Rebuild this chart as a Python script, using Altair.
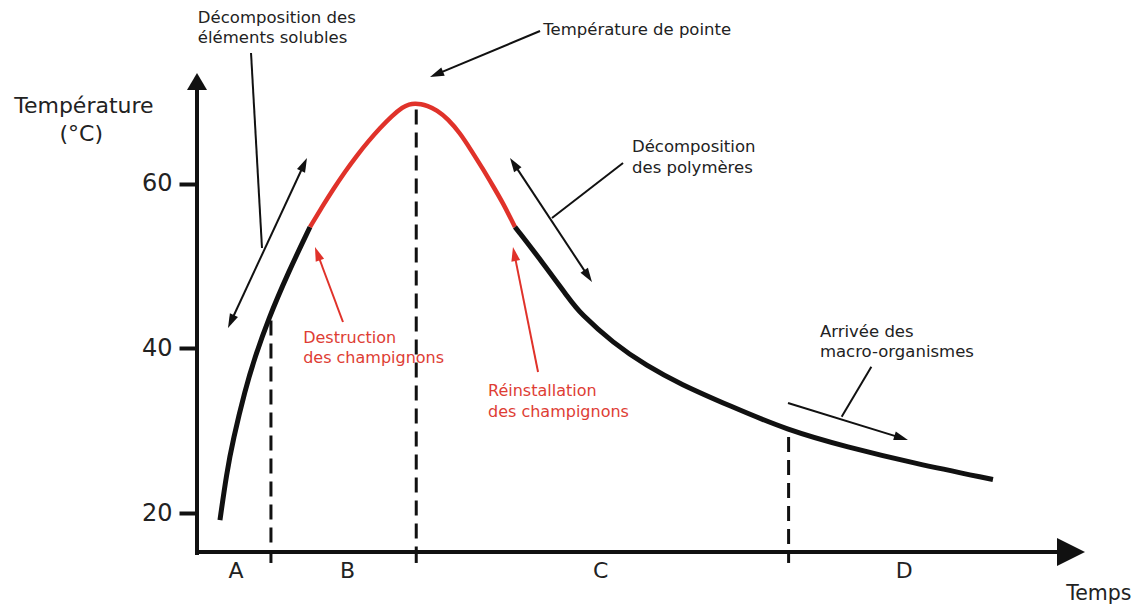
import math
import altair as alt
import pandas as pd

# ---------------- data (time in arbitrary units, temperature in °C) ----------------
rise_t = [2.64, 3.41, 4.14, 5.52, 6.67, 8.16, 10.46, 12.99]
rise_T = [19.18, 24.89, 28.89, 34.96, 38.96, 43.45, 49.16, 54.74]
peak_t = [12.99, 14.37, 15.63, 17.01, 18.39, 19.66, 21.03, 22.41, 23.68, 24.37, 25.06,
          25.75, 26.44, 27.59, 28.85, 30.23, 31.49, 32.87, 34.02, 35.17, 36.55]
peak_T = [54.74, 57.16, 59.28, 61.44, 63.42, 65.10, 66.73, 68.23, 69.32, 69.63, 69.72,
          69.66, 69.47, 68.93, 67.84, 66.14, 64.08, 61.77, 59.71, 57.65, 54.74]
fall_t = [36.55, 39.77, 42.87, 44.02, 47.82, 51.72, 55.52, 61.26, 67.82, 74.71, 82.30, 91.49]
fall_T = [54.74, 50.37, 45.88, 44.30, 40.66, 37.87, 35.69, 33.02, 30.10, 28.04, 26.10, 24.10]

y_ticks = [20, 40, 60]

bound_t = [8.5, 25.2, 68.0]
bound_top = [43.4, 69.0, 29.25]

phase_labels = ["A", "B", "C", "D"]
phase_t = [4.5, 17.3, 46.4, 81.3]

ann_lines = ["Décomposition des", "éléments solubles", "Température de pointe",
             "Décomposition", "des polymères", "Arrivée des", "macro-organismes"]
ann_t = [0.1, 0.1, 39.8, 50.0, 50.0, 71.6, 71.6]
ann_T = [79.49, 77.07, 78.04, 63.84, 61.29, 41.39, 38.96]

red_lines = ["Destruction", "des champignons", "Réinstallation", "des champignons"]
red_t = [12.2, 12.2, 33.45, 33.45]
red_T = [40.66, 38.23, 34.23, 31.68]

arrow_t0 = [3.56, 6.21, 39.43, 35.98, 48.97, 67.93, 77.51, 16.78, 39.20]
arrow_T0 = [42.48, 75.85, 78.52, 63.11, 62.50, 33.38, 37.79, 43.21, 37.14]
arrow_t1 = [12.64, 7.47, 26.78, 45.40, 40.80, 81.72, 74.10, 13.56, 36.32]
arrow_T1 = [63.11, 52.19, 72.94, 48.06, 55.83, 28.89, 31.72, 52.31, 52.31]
arrow_heads = [2, 0, 1, 2, 0, 1, 0, 1, 1]
arrow_red = [False, False, False, False, False, False, False, True, True]

# ---------------- layout / style ----------------
X_DOM = [0, 100]
Y_DOM = [15.3, 75]
W, H = 870, 492
SX = W / (X_DOM[1] - X_DOM[0])
SY = H / (Y_DOM[1] - Y_DOM[0])
FONT = "DejaVu Sans"
BLACK = "#111111"
TEXT = "#222222"
RED = "#e0322a"
RED_TEXT = "#de3d34"

xs = alt.Scale(domain=X_DOM, nice=False, zero=False)
ys = alt.Scale(domain=Y_DOM, nice=False, zero=False)
y_axis = alt.Axis(values=y_ticks, domain=False, grid=False, tickSize=18, tickWidth=4,
                  tickColor=BLACK, labelFont=FONT, labelFontSize=24, labelColor=TEXT,
                  labelPadding=7, title=None)


def X(f="t"):
    return alt.X(f"{f}:Q", scale=xs, axis=None)


def Y(f="T"):
    return alt.Y(f"{f}:Q", scale=ys, axis=y_axis)


# curve
def curve(ts, Ts, color, width):
    return alt.Chart(pd.DataFrame({"t": ts, "T": Ts})).mark_line(
        interpolate="basis", color=color, strokeWidth=width, strokeCap="butt"
    ).encode(x=X(), y=Y())


rise = curve(rise_t, rise_T, BLACK, 5)
peak = curve(peak_t, peak_T, RED, 4.5)
fall = curve(fall_t, fall_T, BLACK, 5)

# axes lines
axes_df = pd.DataFrame({
    "t": [0, -0.23], "T": [14.95, Y_DOM[0]],
    "t2": [0, 99.3], "T2": [71.6, Y_DOM[0]],
})
axes_lines = alt.Chart(axes_df).mark_rule(color=BLACK, strokeWidth=4).encode(
    x=X(), y=Y(), x2="t2:Q", y2="T2:Q")

y_head = alt.Chart(pd.DataFrame({"t": [0], "T": [72.39]})).mark_point(
    shape="M0,-0.85 L1,0.85 L-1,0.85 Z", size=400, filled=True, color=BLACK, opacity=1
).encode(x=X(), y=Y())
x_head = alt.Chart(pd.DataFrame({"t": [100.46], "T": [Y_DOM[0]]})).mark_point(
    shape="M-1,-1 L1,0 L-1,1 Z", size=784, filled=True, color=BLACK, opacity=1
).encode(x=X(), y=Y())

# phase boundaries
bdf = pd.DataFrame({"t": bound_t, "T": bound_top, "T2": [Y_DOM[0]] * 3})
dashes = alt.Chart(bdf).mark_rule(color=BLACK, strokeWidth=3, strokeDash=[15, 8]).encode(
    x=X(), y=Y(), y2="T2:Q")
tdf = pd.DataFrame({"t": bound_t, "T": [Y_DOM[0]] * 3, "T2": [13.97] * 3})
below_ticks = alt.Chart(tdf).mark_rule(color=BLACK, strokeWidth=3).encode(
    x=X(), y=Y(), y2="T2:Q")

# annotation arrows
seg_rows, head_rows = [], []
for t0, T0, t1, T1, hd, red in zip(arrow_t0, arrow_T0, arrow_t1, arrow_T1, arrow_heads, arrow_red):
    col = RED if red else BLACK
    dx = (t1 - t0) * SX
    dy = (T1 - T0) * SY
    L = math.hypot(dx, dy)
    ux, uy = dx / L, dy / L
    a, A, b, B = t0, T0, t1, T1
    if hd >= 1:
        b = t1 - ux * 8 / SX
        B = T1 - uy * 8 / SY
        ang = math.degrees(math.atan2(dx, dy)) % 360
        head_rows.append({"t": t1, "T": T1, "angle": ang, "color": col})
    if hd == 2:
        a = t0 + ux * 8 / SX
        A = T0 + uy * 8 / SY
        ang = math.degrees(math.atan2(-dx, -dy)) % 360
        head_rows.append({"t": t0, "T": T0, "angle": ang, "color": col})
    seg_rows.append({"t": a, "T": A, "t2": b, "T2": B, "color": col})

segs = alt.Chart(pd.DataFrame(seg_rows)).mark_rule(strokeWidth=2).encode(
    x=X(), y=Y(), x2="t2:Q", y2="T2:Q", color=alt.Color("color:N", scale=None))
heads = alt.Chart(pd.DataFrame(head_rows)).mark_point(
    shape="M0,0 L0.55,1.75 L-0.55,1.75 Z", size=260, filled=True, opacity=1, strokeWidth=0
).encode(x=X(), y=Y(), angle=alt.Angle("angle:Q", scale=None),
         color=alt.Color("color:N", scale=None))

# texts
ann = alt.Chart(pd.DataFrame({"t": ann_t, "T": ann_T, "txt": ann_lines})).mark_text(
    align="left", baseline="alphabetic", font=FONT, fontSize=16.5, color=TEXT
).encode(x=X(), y=Y(), text="txt:N")
red_txt = alt.Chart(pd.DataFrame({"t": red_t, "T": red_T, "txt": red_lines})).mark_text(
    align="left", baseline="alphabetic", font=FONT, fontSize=16, color=RED_TEXT
).encode(x=X(), y=Y(), text="txt:N")
phases = alt.Chart(pd.DataFrame({"t": phase_t, "T": [12.14] * 4, "txt": phase_labels})).mark_text(
    align="center", baseline="alphabetic", font=FONT, fontSize=22, color=TEXT
).encode(x=X(), y=Y(), text="txt:N")
ytitle = alt.Chart(pd.DataFrame({"t": [-13.0, -13.3], "T": [68.57, 65.17],
                                 "txt": ["Température", "(°C)"]})).mark_text(
    align="center", baseline="alphabetic", font=FONT, fontSize=22, color=TEXT
).encode(x=X(), y=Y(), text="txt:N")
xtitle = alt.Chart(pd.DataFrame({"t": [99.9], "T": [9.48], "txt": ["Temps"]})).mark_text(
    align="left", baseline="alphabetic", font=FONT, fontSize=20.5, color=TEXT
).encode(x=X(), y=Y(), text="txt:N")

chart = alt.layer(
    dashes, below_ticks, rise, peak, fall, segs, heads,
    axes_lines, y_head, x_head, ann, red_txt, phases, ytitle, xtitle
).properties(
    width=W, height=H,
    padding={"left": 189, "top": 52, "right": 68, "bottom": 54},
    autosize=alt.AutoSizeParams(type="none"),
    background="white",
).configure_view(stroke=None)

chart.save("out.html", embed_options={"renderer": "svg", "actions": False})
